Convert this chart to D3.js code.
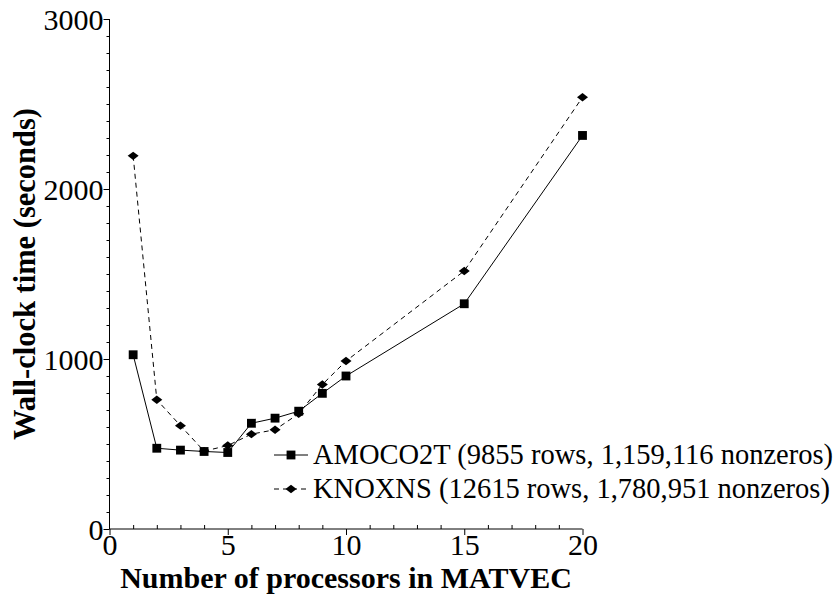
<!DOCTYPE html>
<html>
<head>
<meta charset="utf-8">
<script src="https://cdn.jsdelivr.net/npm/d3@7/dist/d3.min.js"></script>
<style>
  html, body { margin: 0; padding: 0; background: #fff; }
  svg { display: block; }
  text { font-family: "Liberation Serif", "Times New Roman", serif; fill: #000; }
</style>
</head>
<body>
<svg id="chart" width="833" height="594"></svg>
<script>
// Processor counts used in the runs
const processors = [1, 2, 3, 4, 5, 6, 7, 8, 9, 10, 15, 20];
// Wall-clock times (seconds) for each matrix
const amoco2t = [1025, 475, 464, 456, 450, 622, 652, 693, 798, 900, 1325, 2315];
const knoxns  = [2195, 760, 608, 458, 491, 558, 584, 678, 850, 988, 1518, 2540];
// Axis ticks
const xMajorTicks = [0, 5, 10, 15, 20];
const yMajorTicks = [0, 1000, 2000, 3000];
// Legend labels
const seriesNames = [
  "AMOCO2T (9855 rows, 1,159,116 nonzeros)",
  "KNOXNS (12615 rows, 1,780,951 nonzeros)"
];

const svg = d3.select("#chart");
const x = d3.scaleLinear().domain([0, 20]).range([109.5, 582.5]);
const y = d3.scaleLinear().domain([0, 3000]).range([529, 19]);

// Axes
const xAxisMajor = d3.axisBottom(x).tickValues(xMajorTicks).tickSize(6).tickFormat(d3.format("d"));
const xAxisMinor = d3.axisTop(x).tickValues(d3.range(0, 21).filter(v => v % 5 !== 0)).tickSize(4).tickFormat("");
const yAxisMajor = d3.axisLeft(y).tickValues(yMajorTicks).tickSize(6).tickFormat(d3.format("d"));
const yAxisMinor = d3.axisLeft(y).tickValues(d3.range(0, 3001, 100).filter(v => v % 1000 !== 0)).tickSize(3).tickFormat("");

function styleAxis(g) {
  g.selectAll("path.domain").attr("stroke", "#000").attr("stroke-width", 1);
  g.selectAll(".tick line").attr("stroke", "#000").attr("stroke-width", 1);
  g.selectAll(".tick text").style("font-family", "Liberation Serif, serif").style("font-size", "30px").attr("fill", "#000");
}

svg.append("g").attr("transform", `translate(0,${y(0)})`).call(xAxisMinor).call(styleAxis)
  .select("path.domain").remove();
svg.append("g").attr("transform", `translate(0,${y(0)})`).call(xAxisMajor).call(styleAxis)
  .call(g => g.select("path.domain").attr("d", `M${x(0)},0H${x(20)}`))
  .call(g => g.selectAll(".tick text").attr("dy", "0.71em").attr("y", 5));
svg.append("g").attr("transform", `translate(${x(0)},0)`).call(yAxisMinor).call(styleAxis)
  .select("path.domain").remove();
svg.append("g").attr("transform", `translate(${x(0)},0)`).call(yAxisMajor).call(styleAxis)
  .call(g => g.select("path.domain").attr("d", `M0,${y(0)}V${y(3000)}`))
  .call(g => g.selectAll(".tick text").attr("x", -6).attr("dy", "0.34em"));

// Axis titles
svg.append("text")
  .attr("x", (x(0) + x(20)) / 2).attr("y", 588)
  .attr("text-anchor", "middle")
  .style("font-size", "30px").style("font-weight", "bold")
  .text("Number of processors in MATVEC");
svg.append("text")
  .attr("transform", `translate(35,${(y(0) + y(3000)) / 2}) rotate(-90)`)
  .attr("text-anchor", "middle")
  .style("font-size", "30.5px").style("font-weight", "bold")
  .text("Wall-clock time (seconds)");

// Series
const line = d3.line().x(d => x(d[0])).y(d => y(d[1]));
const amocoPts = processors.map((p, i) => [p, amoco2t[i]]);
const knoxPts = processors.map((p, i) => [p, knoxns[i]]);

const squareSym = d3.symbol().type(d3.symbolSquare).size(78);
const diamondPath = "M-5.5,0L0,-4.2L5.5,0L0,4.2Z";

svg.append("path").datum(knoxPts).attr("d", line)
  .attr("fill", "none").attr("stroke", "#000").attr("stroke-width", 1).attr("stroke-dasharray", "5,4");
svg.append("path").datum(amocoPts).attr("d", line)
  .attr("fill", "none").attr("stroke", "#000").attr("stroke-width", 1);

svg.selectAll("path.knox").data(knoxPts).enter().append("path").attr("class", "knox")
  .attr("transform", d => `translate(${x(d[0])},${y(d[1])})`).attr("d", diamondPath).attr("fill", "#000");
svg.selectAll("path.amoco").data(amocoPts).enter().append("path").attr("class", "amoco")
  .attr("transform", d => `translate(${x(d[0])},${y(d[1])})`).attr("d", squareSym).attr("fill", "#000");

// Legend
const legend = svg.append("g");
const rows = [{ y: 455, dash: null, sym: "square" }, { y: 489, dash: "5,4", sym: "diamond" }];
rows.forEach((r, i) => {
  legend.append("line").attr("x1", 274).attr("x2", 308).attr("y1", r.y).attr("y2", r.y)
    .attr("stroke", "#000").attr("stroke-width", 1).attr("stroke-dasharray", r.dash);
  legend.append("path").attr("transform", `translate(291,${r.y})`)
    .attr("d", r.sym === "square" ? squareSym() : diamondPath).attr("fill", "#000");
  legend.append("text").attr("x", 313).attr("y", r.y + 9)
    .style("font-size", "28.5px").text(seriesNames[i]);
});
</script>
</body>
</html>
